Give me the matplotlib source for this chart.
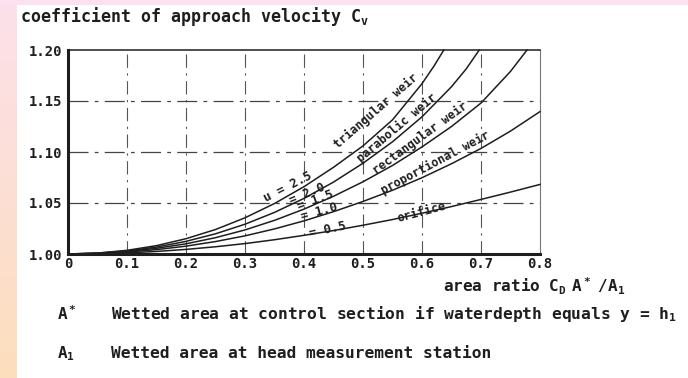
import matplotlib.pyplot as plt
import numpy as np

plt.rcParams['font.family'] = 'DejaVu Sans Mono'

# values (Cv against area ratio Cd A*/A1)
ratio_tri = [0, 0.05, 0.1, 0.15, 0.2, 0.25, 0.3, 0.35, 0.4, 0.45, 0.5, 0.55, 0.6, 0.62, 0.637]
cv_tri = [1.0, 1.0009, 1.0036, 1.0082, 1.0150, 1.0240, 1.0355, 1.0495, 1.0660, 1.0850, 1.1060, 1.1315, 1.1670, 1.1840, 1.20]

ratio_par = [0, 0.05, 0.1, 0.15, 0.2, 0.25, 0.3, 0.35, 0.4, 0.45, 0.5, 0.55, 0.6, 0.65, 0.675, 0.697]
cv_par = [1.0, 1.0008, 1.0030, 1.0068, 1.0124, 1.0198, 1.0292, 1.0408, 1.0545, 1.0705, 1.0890, 1.1100, 1.1345, 1.1640, 1.1815, 1.20]

ratio_rect = [0, 0.05, 0.1, 0.15, 0.2, 0.25, 0.3, 0.35, 0.4, 0.45, 0.5, 0.55, 0.6, 0.65, 0.7, 0.75, 0.778]
cv_rect = [1.0, 1.0007, 1.0025, 1.0056, 1.0100, 1.0160, 1.0236, 1.0330, 1.0440, 1.0566, 1.0708, 1.0868, 1.1050, 1.1250, 1.1480, 1.1790, 1.20]

ratio_prop = [0, 0.05, 0.1, 0.15, 0.2, 0.25, 0.3, 0.35, 0.4, 0.45, 0.5, 0.55, 0.6, 0.65, 0.7, 0.75, 0.8]
cv_prop = [1.0, 1.0005, 1.0019, 1.0043, 1.0077, 1.0122, 1.0178, 1.0246, 1.0325, 1.0415, 1.0515, 1.0625, 1.0748, 1.0885, 1.1035, 1.1205, 1.1396]

ratio_orif = [0, 0.05, 0.1, 0.15, 0.2, 0.25, 0.3, 0.35, 0.4, 0.45, 0.5, 0.55, 0.6, 0.65, 0.7, 0.75, 0.8]
cv_orif = [1.0, 1.0002, 1.0011, 1.0025, 1.0045, 1.0071, 1.0102, 1.0140, 1.0183, 1.0230, 1.0282, 1.0338, 1.0400, 1.0465, 1.0535, 1.0607, 1.0682]

xticks = [0, 0.1, 0.2, 0.3, 0.4, 0.5, 0.6, 0.7, 0.8]
xticklabels = ['0', '0.1', '0.2', '0.3', '0.4', '0.5', '0.6', '0.7', '0.8']
yticks = [1.00, 1.05, 1.10, 1.15, 1.20]
yticklabels = ['1.00', '1.05', '1.10', '1.15', '1.20']

curve_names = ['triangular weir', 'parabolic weir', 'rectangular weir', 'proportional weir', 'orifice']
u_labels = ['u = 2.5', '= 2.0', '= 1.5', '= 1.0', '= 0.5']

W, H = 688, 378
fig = plt.figure(figsize=(W / 100, H / 100), dpi=100)

# scan border: pink band on top, pink-to-peach strip on the left
strip = fig.add_axes([0, 0, 17 / W, 1])
grad = np.linspace(0, 1, 256)[:, None, None]
top_c = np.array([0.99, 0.88, 0.92])
bot_c = np.array([0.99, 0.87, 0.74])
strip.imshow(top_c * (1 - grad) + bot_c * grad, aspect='auto', extent=[0, 1, 0, 1])
strip.axis('off')
band = fig.add_axes([0, 1 - 5 / H, 1, 5 / H])
band.set_facecolor('#fbe2ee')
band.set_xticks([])
band.set_yticks([])
for s in band.spines.values():
    s.set_visible(False)

ax = fig.add_axes([68 / W, (H - 254) / H, 472 / W, 204 / H])
ax.set_xlim(0, 0.8)
ax.set_ylim(1.0, 1.2)

ink = '#1e1e1e'
for x in xticks[1:-1]:
    ax.axvline(x, color='#555555', lw=0.8, ls=(0, (12, 5, 2, 5)), zorder=1)
for y in yticks[1:-1]:
    ax.axhline(y, color='#444444', lw=0.9, ls=(0, (16, 5, 3, 5)), zorder=1)

for xs, ys in [(ratio_tri, cv_tri), (ratio_par, cv_par), (ratio_rect, cv_rect),
               (ratio_prop, cv_prop), (ratio_orif, cv_orif)]:
    ax.plot(xs, ys, color=ink, lw=1.1, zorder=3, clip_on=False)

ax.spines['left'].set_linewidth(2.2)
ax.spines['bottom'].set_linewidth(2.2)
ax.spines['top'].set_linewidth(1.1)
ax.spines['right'].set_linewidth(0.8)
ax.spines['right'].set_color('#777777')
for s in ['left', 'bottom', 'top']:
    ax.spines[s].set_color(ink)

ax.set_xticks(xticks)
ax.set_xticklabels(xticklabels)
ax.set_yticks(yticks)
ax.set_yticklabels(yticklabels)
ax.tick_params(length=0, labelsize=10, colors=ink, pad=2)
ax.tick_params(axis='y', pad=4)
for lab in ax.get_xticklabels() + ax.get_yticklabels():
    lab.set_fontweight('bold')

# curve names written along the curves
name_pos = [(0.522, 1.140, 41), (0.558, 1.124, 40), (0.597, 1.114, 36), (0.622, 1.089, 28), (0.600, 1.041, 15)]
for name, (x, y, rot) in zip(curve_names, name_pos):
    ax.text(x, y, name, rotation=rot, rotation_mode='anchor', ha='center', va='center',
            fontsize=8.5, color=ink, fontweight='bold', zorder=4)

u_pos = [(0.373, 1.0660, 27), (0.405, 1.0590, 22), (0.420, 1.0530, 20), (0.425, 1.0410, 15), (0.440, 1.0235, 12)]
for lab, (x, y, rot) in zip(u_labels, u_pos):
    ax.text(x, y, lab, rotation=rot, rotation_mode='anchor', ha='center', va='center',
            fontsize=9, color=ink, fontweight='bold', zorder=4)

fig.text(20 / W, 1 - 17 / H, 'coefficient of approach velocity $\\mathregular{C_v}$',
         fontsize=12, fontweight='bold', color=ink, va='center', ha='left')
fig.text(625 / W, 1 - 286 / H, 'area ratio $\\mathregular{C_D\\ A^*\\ /A_1}$',
         fontsize=11.5, fontweight='bold', color=ink, va='center', ha='right')
fig.text(57 / W, 1 - 314 / H, '$\\mathregular{A^*}$', fontsize=11.5, fontweight='bold', color=ink, va='center')
fig.text(111 / W, 1 - 314 / H, 'Wetted area at control section if waterdepth equals y = $\\mathregular{h_1}$',
         fontsize=11.7, fontweight='bold', color=ink, va='center')
fig.text(57 / W, 1 - 354 / H, '$\\mathregular{A_1}$', fontsize=11.5, fontweight='bold', color=ink, va='center')
fig.text(111 / W, 1 - 354 / H, 'Wetted area at head measurement station',
         fontsize=11.7, fontweight='bold', color=ink, va='center')

fig.savefig('out.png', dpi=100, facecolor='white')
